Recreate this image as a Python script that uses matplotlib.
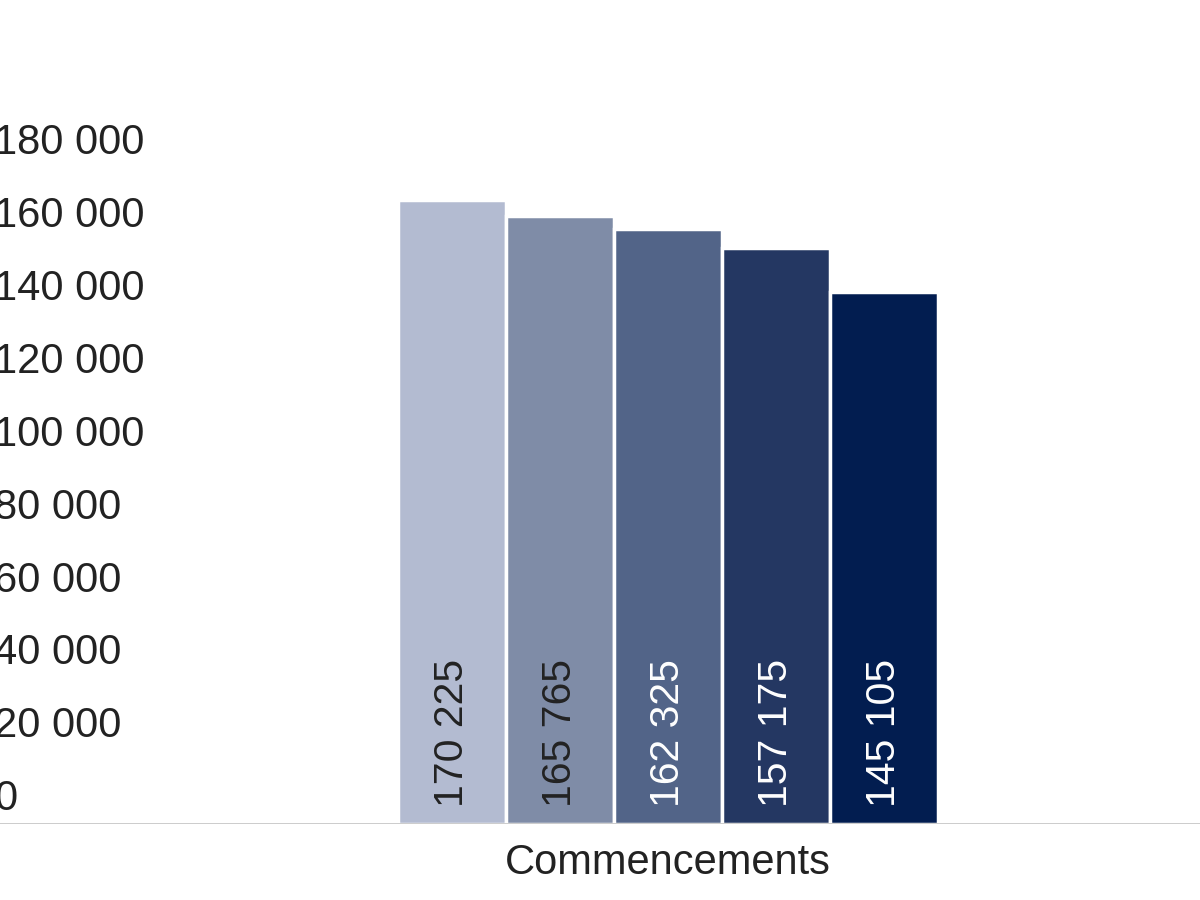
import matplotlib.pyplot as plt
import numpy as np

plt.rcParams['font.family'] = ['Liberation Sans', 'DejaVu Sans']

# Data
category = "Commencements"
values = [170225, 165765, 162325, 157175, 145105]
colors = ['#b3bbd1', '#7f8ca7', '#526488', '#243762', '#021d50']
label_colors = ['#222222', '#222222', 'white', 'white', 'white']
y_ticks = [0, 20000, 40000, 60000, 80000, 100000, 120000, 140000, 160000, 180000]

def fmt(v):
    return f"{v:,}".replace(",", " ")

fig = plt.figure(figsize=(12, 9), dpi=100)
ax = fig.add_axes([0, 1 - 824 / 900, 1, (824 - 164) / 900])

w = 0.16
x = (np.arange(len(values)) - (len(values) - 1) / 2) * w
ax.bar(x, values, width=w, color=colors, edgecolor='white', linewidth=2.5)

for xi, v, c in zip(x, values, label_colors):
    ax.annotate(fmt(v), xy=(xi, 0), xytext=(0, 17), textcoords='offset pixels',
                rotation=90, ha='center', va='bottom', fontsize=29.5, color=c)

ax.set_xlim(-668 / 675, (1200 - 668) / 675)
ax.set_ylim(0, 180000)

# y labels sit above their gridline, left aligned and cut at the figure edge
for i, t in enumerate(y_ticks):
    ax.annotate(fmt(t), xy=(0, t), xycoords=('axes fraction', 'data'),
                xytext=(-6, 14 - 0.5 * i), textcoords='offset pixels',
                ha='left', va='baseline', fontsize=30, color='#222222',
                annotation_clip=False)

ax.set_yticks([])
ax.set_xticks([0])
ax.set_xticklabels([category], fontsize=30, color='#222222')
ax.tick_params(axis='x', length=0, pad=14)

for s in ax.spines.values():
    s.set_visible(False)
ax.axhline(0, color='#c8c8c8', linewidth=2, zorder=3)

fig.savefig('out.png', dpi=100)
